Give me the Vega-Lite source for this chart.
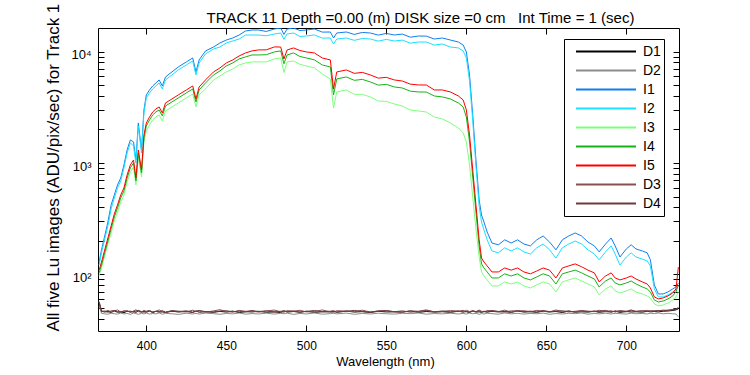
{
 "$schema": "https://vega.github.io/schema/vega-lite/v6.json",
 "width": 581, "height": 303,
 "autosize": {"type": "none"},
 "padding": {"left": 98, "top": 28, "right": 71, "bottom": 44},
 "background": "white",
 "config": {
  "font": "Liberation Sans",
  "view": {"stroke": "black", "strokeWidth": 1},
  "axis": {"domain": false, "grid": false, "tickColor": "black", "tickWidth": 1, "labelColor": "black", "titleColor": "black", "labelFont": "Liberation Sans", "titleFont": "Liberation Sans", "labelFontSize": 12, "titleFontWeight": "normal", "labelFlush": false}
 },
 "title": {"text": "TRACK 11 Depth =0.00 (m) DISK size =0 cm\u00a0\u00a0 Int Time = 1 (sec)", "fontSize": 15, "fontWeight": "normal", "font": "Liberation Sans", "color": "black", "anchor": "middle", "frame": "group", "dx": 32, "offset": -35, "baseline": "alphabetic"},
 "data": {"values": [
  {"wl":370.5,"I1":129,"I2":121,"I3":96.6,"I4":103,"I5":109,"D1":55,"D2":52,"D3":57,"D4":56},
  {"wl":372,"I1":166,"I2":156,"I3":114,"I4":121,"I5":129,"D1":46.5,"D2":44.6,"D3":47.1,"D4":46.0},
  {"wl":374,"I1":221,"I2":208,"I3":146,"I4":156,"I5":166,"D1":45.9,"D2":44.1,"D3":46.2,"D4":46.8},
  {"wl":376,"I1":295,"I2":272,"I3":187,"I4":199,"I5":212,"D1":46.3,"D2":43.8,"D3":47.4,"D4":45.7},
  {"wl":378,"I1":420,"I2":387,"I3":235,"I4":256,"I5":272,"D1":45.4,"D2":44.7,"D3":45.8,"D4":46.9},
  {"wl":380,"I1":516,"I2":485,"I3":302,"I4":328,"I5":349,"D1":46.8,"D2":44.2,"D3":46.9,"D4":47.3},
  {"wl":382,"I1":635,"I2":597,"I3":363,"I4":395,"I5":420,"D1":45.7,"D2":43.9,"D3":47.8,"D4":46.1},
  {"wl":384,"I1":734,"I2":690,"I3":447,"I4":485,"I5":516,"D1":46.1,"D2":44.8,"D3":45.9,"D4":45.6},
  {"wl":386,"I1":960,"I2":903,"I3":516,"I4":561,"I5":597,"D1":45.2,"D2":44.0,"D3":46.5,"D4":47.0},
  {"wl":388,"I1":1310,"I2":1231,"I3":676,"I4":734,"I5":781,"D1":46.6,"D2":44.5,"D3":47.2,"D4":46.3},
  {"wl":390,"I1":1611,"I2":1514,"I3":831,"I4":903,"I5":960,"D1":45.9,"D2":43.6,"D3":45.4,"D4":46.7},
  {"wl":392,"I1":1546,"I2":1423,"I3":921,"I4":1001,"I5":1065,"D1":46.4,"D2":44.9,"D3":46.8,"D4":45.5},
  {"wl":393.5,"I1":1065,"I2":1001,"I3":635,"I4":690,"I5":734,"D1":45.5,"D2":44.3,"D3":48.0,"D4":46.9},
  {"wl":395,"I1":2290,"I2":2153,"I3":1133,"I4":1231,"I5":1310,"D1":46.9,"D2":43.7,"D3":46.2,"D4":47.4},
  {"wl":397,"I1":1310,"I2":1231,"I3":749,"I4":814,"I5":866,"D1":45.8,"D2":44.6,"D3":45.7,"D4":46.2},
  {"wl":398.5,"I1":2997,"I2":2817,"I3":1546,"I4":1680,"I5":1787,"D1":46.2,"D2":44.0,"D3":47.5,"D4":45.8},
  {"wl":400,"I1":4088,"I2":3842,"I3":1941,"I4":2153,"I5":2290,"D1":45.6,"D2":44.8,"D3":46.3,"D4":46.6},
  {"wl":402,"I1":4533,"I2":4260,"I3":2197,"I4":2437,"I5":2593,"D1":46.7,"D2":43.9,"D3":47.0,"D4":47.1},
  {"wl":404,"I1":4924,"I2":4628,"I3":2437,"I4":2702,"I5":2876,"D1":45.3,"D2":44.4,"D3":45.8,"D4":45.9},
  {"wl":406,"I1":5239,"I2":4924,"I3":2593,"I4":2876,"I5":3060,"D1":46.5,"D2":44.1,"D3":46.6,"D4":46.4},
  {"wl":408,"I1":5575,"I2":5239,"I3":2702,"I4":2997,"I5":3189,"D1":45.8,"D2":45.0,"D3":47.9,"D4":46.0},
  {"wl":410,"I1":4924,"I2":4628,"I3":2387,"I4":2647,"I5":2817,"D1":46.0,"D2":43.8,"D3":46.0,"D4":47.2},
  {"wl":412,"I1":5932,"I2":5575,"I3":2936,"I4":3256,"I5":3464,"D1":45.4,"D2":44.5,"D3":45.5,"D4":45.7},
  {"wl":416,"I1":6578,"I2":6182,"I3":3189,"I4":3537,"I5":3763,"D1":46.6,"D2":44.2,"D3":47.3,"D4":46.8},
  {"wl":420,"I1":7296,"I2":6856,"I3":3464,"I4":3842,"I5":4088,"D1":45.9,"D2":43.6,"D3":46.7,"D4":46.1},
  {"wl":425,"I1":8091,"I2":7604,"I3":3842,"I4":4260,"I5":4533,"D1":46.3,"D2":44.7,"D3":45.9,"D4":47.0},
  {"wl":429,"I1":8790,"I2":8260,"I3":4173,"I4":4628,"I5":4924,"D1":45.5,"D2":44.0,"D3":47.6,"D4":45.6},
  {"wl":431,"I1":6578,"I2":6182,"I3":3189,"I4":3537,"I5":3763,"D1":46.8,"D2":44.6,"D3":46.4,"D4":46.5},
  {"wl":433,"I1":8433,"I2":7925,"I3":4088,"I4":4533,"I5":4823,"D1":45.7,"D2":43.9,"D3":47.1,"D4":47.3},
  {"wl":437,"I1":10160,"I2":9548,"I3":4628,"I4":5239,"I5":5575,"D1":46.1,"D2":44.8,"D3":45.6,"D4":46.2},
  {"wl":442,"I1":11022,"I2":10575,"I3":5575,"I4":6182,"I5":6578,"D1":45.6,"D2":44.3,"D3":46.9,"D4":45.9},
  {"wl":446,"I1":11972,"I2":11022,"I3":6056,"I4":6716,"I5":7147,"D1":46.4,"D2":43.7,"D3":48.1,"D4":46.7},
  {"wl":450,"I1":12739,"I2":11972,"I3":6578,"I4":7449,"I5":7925,"D1":45.8,"D2":44.5,"D3":46.2,"D4":47.1},
  {"wl":454,"I1":13276,"I2":12478,"I3":7000,"I4":7925,"I5":8433,"D1":46.7,"D2":44.1,"D3":45.8,"D4":46.0},
  {"wl":458,"I1":14125,"I2":13003,"I3":7604,"I4":8610,"I5":9161,"D1":45.3,"D2":44.9,"D3":47.4,"D4":46.6},
  {"wl":462,"I1":15344,"I2":14125,"I3":7925,"I4":8974,"I5":9748,"D1":46.2,"D2":43.8,"D3":46.5,"D4":45.8},
  {"wl":466,"I1":15665,"I2":14125,"I3":8091,"I4":9352,"I5":10160,"D1":45.9,"D2":44.4,"D3":47.0,"D4":47.2},
  {"wl":470,"I1":15665,"I2":14125,"I3":8091,"I4":9352,"I5":10372,"D1":46.5,"D2":44.0,"D3":45.7,"D4":46.3},
  {"wl":475,"I1":15200,"I2":13900,"I3":8100,"I4":9400,"I5":10400,"D1":45.6,"D2":44.7,"D3":46.8,"D4":46.9},
  {"wl":480,"I1":15993,"I2":14421,"I3":8610,"I4":9952,"I5":11036,"D1":46.0,"D2":43.9,"D3":47.7,"D4":45.7},
  {"wl":484,"I1":16326,"I2":14722,"I3":8790,"I4":10160,"I5":11022,"D1":45.4,"D2":44.6,"D3":46.1,"D4":46.5},
  {"wl":486,"I1":14300,"I2":12900,"I3":6500,"I4":7800,"I5":8600,"D1":46.9,"D2":44.2,"D3":45.6,"D4":47.0},
  {"wl":488,"I1":15993,"I2":14421,"I3":8091,"I4":9352,"I5":10372,"D1":45.8,"D2":44.8,"D3":47.2,"D4":46.1},
  {"wl":492,"I1":16326,"I2":14722,"I3":8260,"I4":9748,"I5":10810,"D1":46.3,"D2":43.6,"D3":46.6,"D4":46.8},
  {"wl":496,"I1":15500,"I2":13700,"I3":7700,"I4":9050,"I5":10250,"D1":45.7,"D2":44.5,"D3":47.5,"D4":45.6},
  {"wl":500,"I1":15665,"I2":13837,"I3":7449,"I4":8790,"I5":9952,"D1":46.6,"D2":44.0,"D3":45.9,"D4":46.4},
  {"wl":505,"I1":16000,"I2":14150,"I3":7150,"I4":8450,"I5":9750,"D1":45.5,"D2":44.9,"D3":46.3,"D4":47.3},
  {"wl":510,"I1":15000,"I2":13250,"I3":6300,"I4":7600,"I5":8780,"D1":46.1,"D2":43.8,"D3":47.8,"D4":46.0},
  {"wl":515,"I1":15031,"I2":13276,"I3":5691,"I4":7296,"I5":8433,"D1":45.9,"D2":44.3,"D3":46.0,"D4":46.6},
  {"wl":517,"I1":13276,"I2":11727,"I3":3124,"I4":4088,"I5":4628,"D1":46.4,"D2":44.6,"D3":45.5,"D4":47.1},
  {"wl":519,"I1":14722,"I2":13003,"I3":4350,"I4":5691,"I5":6578,"D1":45.6,"D2":44.1,"D3":47.1,"D4":45.9},
  {"wl":525,"I1":15031,"I2":13276,"I3":4533,"I4":5932,"I5":6856,"D1":46.7,"D2":44.8,"D3":46.7,"D4":46.5},
  {"wl":530,"I1":14300,"I2":12650,"I3":4140,"I4":5530,"I5":6390,"D1":45.8,"D2":43.7,"D3":46.2,"D4":47.4},
  {"wl":535,"I1":14900,"I2":13150,"I3":4140,"I4":5640,"I5":6520,"D1":46.2,"D2":44.5,"D3":47.6,"D4":46.2},
  {"wl":540,"I1":14722,"I2":13003,"I3":3922,"I4":5349,"I5":6182,"D1":45.4,"D2":44.0,"D3":45.8,"D4":45.8},
  {"wl":545,"I1":14100,"I2":12450,"I3":3600,"I4":5010,"I5":5790,"D1":46.5,"D2":44.7,"D3":46.9,"D4":46.7},
  {"wl":550,"I1":14600,"I2":12900,"I3":3580,"I4":5090,"I5":5880,"D1":45.9,"D2":44.2,"D3":47.3,"D4":47.0},
  {"wl":555,"I1":14125,"I2":12478,"I3":3393,"I4":4823,"I5":5575,"D1":46.0,"D2":43.9,"D3":46.1,"D4":46.1},
  {"wl":560,"I1":14400,"I2":12700,"I3":3250,"I4":4720,"I5":5450,"D1":45.7,"D2":44.6,"D3":45.7,"D4":46.9},
  {"wl":565,"I1":13500,"I2":11930,"I3":2990,"I4":4420,"I5":5110,"D1":46.8,"D2":44.3,"D3":47.0,"D4":45.7},
  {"wl":570,"I1":13837,"I2":12223,"I3":2936,"I4":4350,"I5":5027,"D1":45.5,"D2":44.9,"D3":46.5,"D4":46.4},
  {"wl":575,"I1":13800,"I2":12200,"I3":2870,"I4":4340,"I5":5020,"D1":46.3,"D2":43.8,"D3":47.9,"D4":47.2},
  {"wl":580,"I1":13000,"I2":11480,"I3":2590,"I4":4000,"I5":4530,"D1":45.8,"D2":44.4,"D3":45.9,"D4":46.0},
  {"wl":585,"I1":13276,"I2":11727,"I3":2488,"I4":3922,"I5":4533,"D1":46.1,"D2":44.1,"D3":46.4,"D4":46.8},
  {"wl":590,"I1":12739,"I2":11022,"I3":2290,"I4":3763,"I5":4350,"D1":45.6,"D2":44.7,"D3":47.2,"D4":45.9},
  {"wl":595,"I1":12223,"I2":10810,"I3":2065,"I4":3464,"I5":4004,"D1":46.6,"D2":44.0,"D3":46.8,"D4":46.5},
  {"wl":598,"I1":11487,"I2":10160,"I3":1863,"I4":3189,"I5":3686,"D1":45.9,"D2":44.5,"D3":45.6,"D4":47.3},
  {"wl":600,"I1":9952,"I2":8790,"I3":1546,"I4":2593,"I5":2997,"D1":46.2,"D2":43.9,"D3":47.5,"D4":46.2},
  {"wl":602,"I1":6182,"I2":5461,"I3":960,"I4":1546,"I5":1787,"D1":45.4,"D2":44.8,"D3":46.3,"D4":45.8},
  {"wl":604,"I1":2702,"I2":2387,"I3":496,"I4":749,"I5":866,"D1":46.7,"D2":44.2,"D3":47.0,"D4":46.9},
  {"wl":606,"I1":1065,"I2":941,"I3":256,"I4":363,"I5":420,"D1":45.8,"D2":44.6,"D3":46.0,"D4":46.3},
  {"wl":608,"I1":466,"I2":411,"I3":143,"I4":180,"I5":204,"D1":46.0,"D2":43.7,"D3":47.7,"D4":47.1},
  {"wl":609.5,"I1":341,"I2":295,"I3":105,"I4":124,"I5":140,"D1":45.6,"D2":44.4,"D3":46.6,"D4":45.7},
  {"wl":611,"I1":295,"I2":250,"I3":96.6,"I4":114,"I5":129,"D1":46.4,"D2":44.0,"D3":45.8,"D4":46.6},
  {"wl":613,"I1":240,"I2":204,"I3":89.0,"I4":105,"I5":119,"D1":45.7,"D2":44.7,"D3":47.3,"D4":46.0},
  {"wl":616,"I1":191,"I2":162,"I3":78.6,"I4":92.7,"I5":105,"D1":46.5,"D2":44.3,"D3":46.9,"D4":47.2},
  {"wl":620,"I1":184,"I2":156,"I3":78.6,"I4":92.7,"I5":105,"D1":45.9,"D2":43.8,"D3":46.2,"D4":46.4},
  {"wl":624,"I1":204,"I2":173,"I3":85.4,"I4":101,"I5":114,"D1":46.2,"D2":44.9,"D3":47.6,"D4":45.9},
  {"wl":628,"I1":191,"I2":162,"I3":81.9,"I4":96.6,"I5":109,"D1":45.5,"D2":44.1,"D3":45.7,"D4":46.8},
  {"wl":632,"I1":204,"I2":173,"I3":85.4,"I4":101,"I5":114,"D1":46.8,"D2":44.6,"D3":46.8,"D4":47.0},
  {"wl":636,"I1":187,"I2":159,"I3":78.6,"I4":92.7,"I5":105,"D1":45.8,"D2":43.9,"D3":47.1,"D4":46.1},
  {"wl":640,"I1":180,"I2":152,"I3":75.4,"I4":89.0,"I5":101,"D1":46.1,"D2":44.5,"D3":46.0,"D4":46.7},
  {"wl":644,"I1":204,"I2":173,"I3":80.2,"I4":94.7,"I5":107,"D1":45.6,"D2":44.2,"D3":47.4,"D4":45.8},
  {"wl":648,"I1":221,"I2":187,"I3":85.4,"I4":101,"I5":114,"D1":46.6,"D2":44.8,"D3":46.5,"D4":47.3},
  {"wl":652,"I1":195,"I2":166,"I3":81.9,"I4":96.6,"I5":109,"D1":45.9,"D2":43.7,"D3":45.9,"D4":46.2},
  {"wl":656,"I1":166,"I2":140,"I3":69.4,"I4":81.9,"I5":92.7,"D1":46.3,"D2":44.4,"D3":47.8,"D4":46.6},
  {"wl":660,"I1":204,"I2":173,"I3":85.4,"I4":101,"I5":114,"D1":45.4,"D2":44.0,"D3":46.3,"D4":47.0},
  {"wl":664,"I1":221,"I2":187,"I3":89.0,"I4":105,"I5":119,"D1":46.7,"D2":44.6,"D3":46.9,"D4":45.9},
  {"wl":668,"I1":235,"I2":199,"I3":92.7,"I4":109,"I5":124,"D1":45.7,"D2":44.3,"D3":45.6,"D4":46.5},
  {"wl":672,"I1":221,"I2":187,"I3":87.1,"I4":103,"I5":117,"D1":46.0,"D2":44.9,"D3":47.2,"D4":47.1},
  {"wl":676,"I1":195,"I2":166,"I3":81.9,"I4":96.6,"I5":109,"D1":45.8,"D2":43.8,"D3":46.7,"D4":46.0},
  {"wl":680,"I1":180,"I2":152,"I3":77.0,"I4":90.8,"I5":103,"D1":46.5,"D2":44.5,"D3":46.1,"D4":46.8},
  {"wl":683,"I1":159,"I2":135,"I3":65.2,"I4":77.0,"I5":85.4,"D1":45.6,"D2":44.1,"D3":47.5,"D4":46.3},
  {"wl":687,"I1":187,"I2":159,"I3":73.9,"I4":87.1,"I5":96.6,"D1":46.2,"D2":44.7,"D3":46.4,"D4":47.4},
  {"wl":690.5,"I1":212,"I2":180,"I3":78.6,"I4":92.7,"I5":103,"D1":45.9,"D2":44.0,"D3":47.0,"D4":45.7},
  {"wl":693,"I1":180,"I2":152,"I3":70.9,"I4":83.6,"I5":92.7,"D1":46.6,"D2":44.6,"D3":45.8,"D4":46.9},
  {"wl":696,"I1":143,"I2":121,"I3":68.0,"I4":80.2,"I5":89.0,"D1":45.5,"D2":44.3,"D3":47.3,"D4":46.4},
  {"wl":700,"I1":169,"I2":143,"I3":70.9,"I4":83.6,"I5":92.7,"D1":46.4,"D2":43.9,"D3":46.6,"D4":46.0},
  {"wl":703,"I1":184,"I2":156,"I3":73.9,"I4":87.1,"I5":96.6,"D1":45.8,"D2":44.8,"D3":47.9,"D4":47.2},
  {"wl":706,"I1":169,"I2":143,"I3":69.4,"I4":81.9,"I5":90.8,"D1":46.1,"D2":44.2,"D3":46.2,"D4":46.6},
  {"wl":710,"I1":162,"I2":137,"I3":66.6,"I4":77.0,"I5":85.4,"D1":45.7,"D2":44.5,"D3":46.8,"D4":47.0},
  {"wl":713,"I1":156,"I2":132,"I3":63.9,"I4":73.9,"I5":81.9,"D1":46.5,"D2":44.0,"D3":47.4,"D4":46.2},
  {"wl":715,"I1":135,"I2":119,"I3":61.3,"I4":69.4,"I5":75.4,"D1":46.0,"D2":44.7,"D3":46.5,"D4":47.1},
  {"wl":717.5,"I1":80.2,"I2":73.9,"I3":54.2,"I4":58.8,"I5":62.6,"D1":46.3,"D2":44.3,"D3":47.2,"D4":46.5},
  {"wl":720,"I1":66.6,"I2":62.6,"I3":52.0,"I4":56.4,"I5":60.1,"D1":45.9,"D2":44.9,"D3":46.9,"D4":47.3},
  {"wl":723,"I1":66.6,"I2":62.6,"I3":53.0,"I4":57.6,"I5":61.3,"D1":46.6,"D2":44.1,"D3":47.7,"D4":46.8},
  {"wl":726,"I1":69.4,"I2":65.2,"I3":55.3,"I4":60.1,"I5":63.9,"D1":46.8,"D2":44.6,"D3":47.4,"D4":47.6},
  {"wl":729,"I1":73.9,"I2":69.4,"I3":58.8,"I4":63.9,"I5":68.0,"D1":47.3,"D2":44.2,"D3":48.3,"D4":48.0},
  {"wl":731,"I1":77.0,"I2":72.4,"I3":62.6,"I4":69.4,"I5":73.9,"D1":47.9,"D2":44.0,"D3":48.8,"D4":48.6},
  {"wl":732.5,"I1":83.6,"I2":78.6,"I3":69.4,"I4":80.2,"I5":116,"D1":49.0,"D2":41.5,"D3":50.5,"D4":49.8}
 ]},
 "transform": [{"fold": ["D1","D2","I1","I2","I3","I4","I5","D3","D4"], "as": ["series","value"]}],
 "layer": [
  {
   "mark": {"type": "line", "strokeWidth": 1, "clip": true},
   "encoding": {
    "x": {"field": "wl", "type": "quantitative", "scale": {"domain": [369.8, 732.9], "nice": false, "zero": false},
     "axis": {"orient": "bottom", "values": [400,450,500,550,600,650,700], "tickSize": -6, "labelPadding": 24, "labelBaseline": "alphabetic", "labelFontSize": 12,
      "title": "Wavelength (nm)", "titleFontSize": 13, "titleX": 287, "titleY": 34, "titleAlign": "center", "titleBaseline": "alphabetic"}},
    "y": {"field": "value", "type": "quantitative", "scale": {"type": "log", "domain": [30.94, 16330], "nice": false},
     "axis": {"orient": "left", "values": [40,50,60,70,80,90,100,200,300,400,500,600,700,800,900,1000,2000,3000,4000,5000,6000,7000,8000,9000,10000],
      "labelExpr": "datum.value == 100 ? '10\u00b2' : datum.value == 1000 ? '10\u00b3' : datum.value == 10000 ? '10\u2074' : ''",
      "labelOverlap": false, "tickSize": -6, "labelPadding": 13, "labelOffset": 3, "labelBaseline": "middle", "labelAlign": "right", "labelFontSize": 13,
      "encode": {"ticks": {"update": {"x2": {"signal": "indexof([100,1000,10000], datum.value) >= 0 ? 6 : 3"}}}},
      "title": "All five Lu images (ADU/pix/sec) for Track 1", "titleFontSize": 17, "titleX": -40, "titleY": 303, "titleAlign": "left", "titleBaseline": "alphabetic", "titleAngle": 270}},
    "color": {"field": "series", "type": "nominal",
     "scale": {"domain": ["D1","D2","I1","I2","I3","I4","I5","D3","D4"], "range": ["#000000","#8c8c8c","#0f7ff0","#19e1ff","#7dff7d","#14b414","#ff0000","#8a5050","#6e3a3a"]},
     "legend": {"title": null, "orient": "none", "legendX": 466, "legendY": 11, "direction": "vertical", "symbolType": "stroke", "symbolSize": 3600, "symbolStrokeWidth": 2, "symbolOpacity": 1, "clipHeight": 19, "rowPadding": 0, "padding": 3, "symbolOffset": 8, "labelOffset": 6, "labelFontSize": 14, "labelColor": "black", "labelFont": "Liberation Sans", "strokeColor": "black", "fillColor": "white", "labelExpr": "datum.label + '\u00a0\u00a0'", "cornerRadius": 0}}
   }
  },
  {
   "mark": {"type": "line", "opacity": 0},
   "encoding": {
    "x": {"field": "wl", "type": "quantitative", "scale": {"domain": [369.8, 732.9], "nice": false, "zero": false},
     "axis": {"orient": "top", "values": [400,450,500,550,600,650,700], "tickSize": -6, "labels": false, "title": null}},
    "y": {"field": "value", "type": "quantitative", "scale": {"type": "log", "domain": [30.94, 16330], "nice": false},
     "axis": {"orient": "right", "values": [40,50,60,70,80,90,100,200,300,400,500,600,700,800,900,1000,2000,3000,4000,5000,6000,7000,8000,9000,10000], "tickSize": -6, "labels": false, "title": null,
      "encode": {"ticks": {"update": {"x2": {"signal": "indexof([100,1000,10000], datum.value) >= 0 ? -6 : -3"}}}}}}
   }
  }
 ],
 "resolve": {"axis": {"x": "independent", "y": "independent"}}
}
